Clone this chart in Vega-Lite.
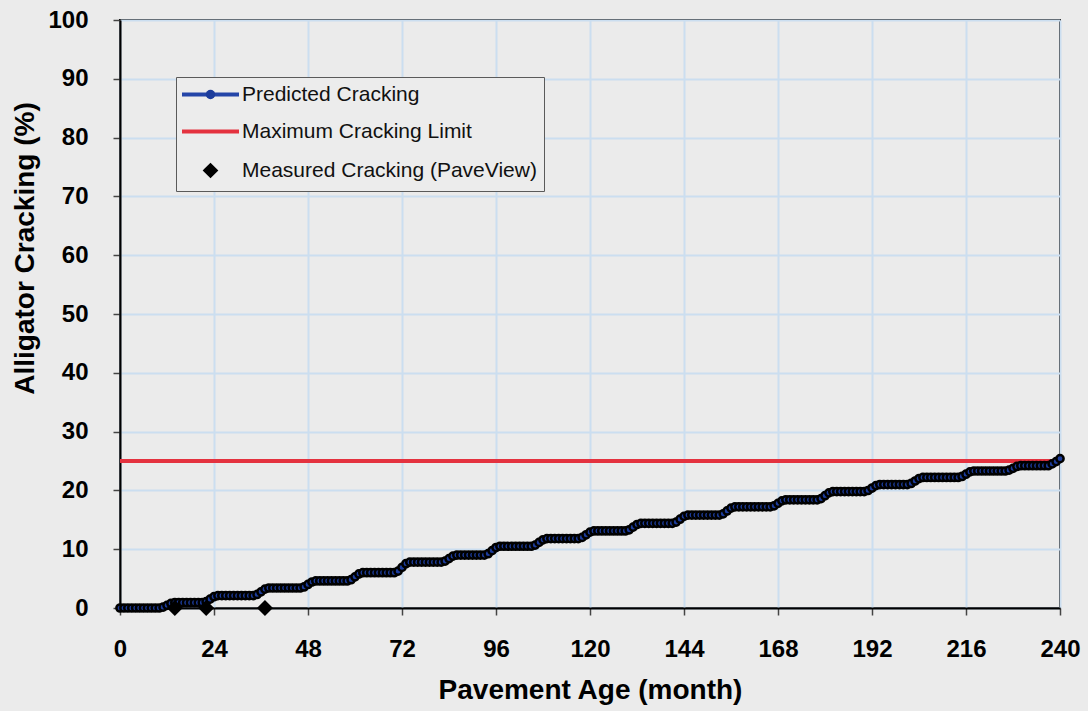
{
  "$schema": "https://vega.github.io/schema/vega-lite/v6.json",
  "autosize": "none",
  "width": 940,
  "height": 588,
  "padding": {"left": 120, "top": 20, "right": 28, "bottom": 103},
  "background": "#ebebeb",
  "config": {
    "font": "Liberation Sans",
    "view": {"stroke": "#000000", "strokeWidth": 2, "fill": "#ebebeb"},
    "axis": {
      "grid": true,
      "gridColor": "#cbdef0",
      "gridWidth": 2,
      "domainColor": "#000000",
      "domainWidth": 2,
      "tickColor": "#444444",
      "tickSize": 7,
      "tickWidth": 1.5,
      "labelFont": "Liberation Sans",
      "labelFontSize": 24,
      "labelFontWeight": "bold",
      "labelColor": "#000000",
      "labelFlush": false,
      "labelOverlap": false,
      "titleFont": "Liberation Sans",
      "titleFontSize": 28,
      "titleFontWeight": "bold",
      "titleColor": "#000000"
    }
  },
  "datasets": {
    "predicted": [
      {"month":0,"cracking":0},{"month":1,"cracking":0},{"month":2,"cracking":0},{"month":3,"cracking":0},{"month":4,"cracking":0},{"month":5,"cracking":0},{"month":6,"cracking":0},{"month":7,"cracking":0},{"month":8,"cracking":0},{"month":9,"cracking":0},{"month":10,"cracking":0},
      {"month":11,"cracking":0.14},{"month":12,"cracking":0.45},{"month":13,"cracking":0.77},
      {"month":14,"cracking":0.9},{"month":15,"cracking":0.9},{"month":16,"cracking":0.9},{"month":17,"cracking":0.9},{"month":18,"cracking":0.9},{"month":19,"cracking":0.9},{"month":20,"cracking":0.9},{"month":21,"cracking":0.9},
      {"month":22,"cracking":1.08},{"month":23,"cracking":1.5},{"month":24,"cracking":1.92},
      {"month":25,"cracking":2.1},{"month":26,"cracking":2.1},{"month":27,"cracking":2.1},{"month":28,"cracking":2.1},{"month":29,"cracking":2.1},{"month":30,"cracking":2.1},{"month":31,"cracking":2.1},{"month":32,"cracking":2.1},{"month":33,"cracking":2.1},{"month":34,"cracking":2.1},
      {"month":35,"cracking":2.3},{"month":36,"cracking":2.75},{"month":37,"cracking":3.2},
      {"month":38,"cracking":3.4},{"month":39,"cracking":3.4},{"month":40,"cracking":3.4},{"month":41,"cracking":3.4},{"month":42,"cracking":3.4},{"month":43,"cracking":3.4},{"month":44,"cracking":3.4},{"month":45,"cracking":3.4},{"month":46,"cracking":3.4},
      {"month":47,"cracking":3.58},{"month":48,"cracking":4.0},{"month":49,"cracking":4.42},
      {"month":50,"cracking":4.6},{"month":51,"cracking":4.6},{"month":52,"cracking":4.6},{"month":53,"cracking":4.6},{"month":54,"cracking":4.6},{"month":55,"cracking":4.6},{"month":56,"cracking":4.6},{"month":57,"cracking":4.6},{"month":58,"cracking":4.6},
      {"month":59,"cracking":4.81},{"month":60,"cracking":5.3},{"month":61,"cracking":5.79},
      {"month":62,"cracking":6.0},{"month":63,"cracking":6.0},{"month":64,"cracking":6.0},{"month":65,"cracking":6.0},{"month":66,"cracking":6.0},{"month":67,"cracking":6.0},{"month":68,"cracking":6.0},{"month":69,"cracking":6.0},{"month":70,"cracking":6.0},
      {"month":71,"cracking":6.27},{"month":72,"cracking":6.9},{"month":73,"cracking":7.53},
      {"month":74,"cracking":7.8},{"month":75,"cracking":7.8},{"month":76,"cracking":7.8},{"month":77,"cracking":7.8},{"month":78,"cracking":7.8},{"month":79,"cracking":7.8},{"month":80,"cracking":7.8},{"month":81,"cracking":7.8},{"month":82,"cracking":7.8},
      {"month":83,"cracking":7.98},{"month":84,"cracking":8.4},{"month":85,"cracking":8.82},
      {"month":86,"cracking":9.0},{"month":87,"cracking":9.0},{"month":88,"cracking":9.0},{"month":89,"cracking":9.0},{"month":90,"cracking":9.0},{"month":91,"cracking":9.0},{"month":92,"cracking":9.0},{"month":93,"cracking":9.0},
      {"month":94,"cracking":9.23},{"month":95,"cracking":9.75},{"month":96,"cracking":10.28},
      {"month":97,"cracking":10.5},{"month":98,"cracking":10.5},{"month":99,"cracking":10.5},{"month":100,"cracking":10.5},{"month":101,"cracking":10.5},{"month":102,"cracking":10.5},{"month":103,"cracking":10.5},{"month":104,"cracking":10.5},{"month":105,"cracking":10.5},
      {"month":106,"cracking":10.7},{"month":107,"cracking":11.15},{"month":108,"cracking":11.6},
      {"month":109,"cracking":11.8},{"month":110,"cracking":11.8},{"month":111,"cracking":11.8},{"month":112,"cracking":11.8},{"month":113,"cracking":11.8},{"month":114,"cracking":11.8},{"month":115,"cracking":11.8},{"month":116,"cracking":11.8},{"month":117,"cracking":11.8},
      {"month":118,"cracking":12.0},{"month":119,"cracking":12.45},{"month":120,"cracking":12.9},
      {"month":121,"cracking":13.1},{"month":122,"cracking":13.1},{"month":123,"cracking":13.1},{"month":124,"cracking":13.1},{"month":125,"cracking":13.1},{"month":126,"cracking":13.1},{"month":127,"cracking":13.1},{"month":128,"cracking":13.1},{"month":129,"cracking":13.1},
      {"month":130,"cracking":13.3},{"month":131,"cracking":13.75},{"month":132,"cracking":14.2},
      {"month":133,"cracking":14.4},{"month":134,"cracking":14.4},{"month":135,"cracking":14.4},{"month":136,"cracking":14.4},{"month":137,"cracking":14.4},{"month":138,"cracking":14.4},{"month":139,"cracking":14.4},{"month":140,"cracking":14.4},{"month":141,"cracking":14.4},
      {"month":142,"cracking":14.61},{"month":143,"cracking":15.1},{"month":144,"cracking":15.59},
      {"month":145,"cracking":15.8},{"month":146,"cracking":15.8},{"month":147,"cracking":15.8},{"month":148,"cracking":15.8},{"month":149,"cracking":15.8},{"month":150,"cracking":15.8},{"month":151,"cracking":15.8},{"month":152,"cracking":15.8},{"month":153,"cracking":15.8},
      {"month":154,"cracking":16.01},{"month":155,"cracking":16.5},{"month":156,"cracking":16.99},
      {"month":157,"cracking":17.2},{"month":158,"cracking":17.2},{"month":159,"cracking":17.2},{"month":160,"cracking":17.2},{"month":161,"cracking":17.2},{"month":162,"cracking":17.2},{"month":163,"cracking":17.2},{"month":164,"cracking":17.2},{"month":165,"cracking":17.2},{"month":166,"cracking":17.2},
      {"month":167,"cracking":17.38},{"month":168,"cracking":17.8},{"month":169,"cracking":18.22},
      {"month":170,"cracking":18.4},{"month":171,"cracking":18.4},{"month":172,"cracking":18.4},{"month":173,"cracking":18.4},{"month":174,"cracking":18.4},{"month":175,"cracking":18.4},{"month":176,"cracking":18.4},{"month":177,"cracking":18.4},{"month":178,"cracking":18.4},
      {"month":179,"cracking":18.61},{"month":180,"cracking":19.1},{"month":181,"cracking":19.59},
      {"month":182,"cracking":19.8},{"month":183,"cracking":19.8},{"month":184,"cracking":19.8},{"month":185,"cracking":19.8},{"month":186,"cracking":19.8},{"month":187,"cracking":19.8},{"month":188,"cracking":19.8},{"month":189,"cracking":19.8},{"month":190,"cracking":19.8},
      {"month":191,"cracking":19.98},{"month":192,"cracking":20.4},{"month":193,"cracking":20.82},
      {"month":194,"cracking":21.0},{"month":195,"cracking":21.0},{"month":196,"cracking":21.0},{"month":197,"cracking":21.0},{"month":198,"cracking":21.0},{"month":199,"cracking":21.0},{"month":200,"cracking":21.0},{"month":201,"cracking":21.0},
      {"month":202,"cracking":21.18},{"month":203,"cracking":21.6},{"month":204,"cracking":22.02},
      {"month":205,"cracking":22.2},{"month":206,"cracking":22.2},{"month":207,"cracking":22.2},{"month":208,"cracking":22.2},{"month":209,"cracking":22.2},{"month":210,"cracking":22.2},{"month":211,"cracking":22.2},{"month":212,"cracking":22.2},{"month":213,"cracking":22.2},{"month":214,"cracking":22.2},
      {"month":215,"cracking":22.37},{"month":216,"cracking":22.75},{"month":217,"cracking":23.14},
      {"month":218,"cracking":23.3},{"month":219,"cracking":23.3},{"month":220,"cracking":23.3},{"month":221,"cracking":23.3},{"month":222,"cracking":23.3},{"month":223,"cracking":23.3},{"month":224,"cracking":23.3},{"month":225,"cracking":23.3},{"month":226,"cracking":23.3},
      {"month":227,"cracking":23.44},{"month":228,"cracking":23.75},{"month":229,"cracking":24.07},
      {"month":230,"cracking":24.2},{"month":231,"cracking":24.2},{"month":232,"cracking":24.2},{"month":233,"cracking":24.2},{"month":234,"cracking":24.2},{"month":235,"cracking":24.2},{"month":236,"cracking":24.2},{"month":237,"cracking":24.2},
      {"month":238,"cracking":24.5},{"month":239,"cracking":24.9},{"month":240,"cracking":25.4}
    ],
    "limit": [
      {"month": 0, "cracking": 25},
      {"month": 240, "cracking": 25}
    ],
    "measured": [
      {"month": 14, "cracking": 0},
      {"month": 22, "cracking": 0},
      {"month": 37, "cracking": 0}
    ]
  },
  "encoding": {
    "x": {
      "field": "month",
      "type": "quantitative",
      "scale": {"domain": [0, 240], "nice": false},
      "axis": {
        "title": "Pavement Age (month)",
        "values": [0, 24, 48, 72, 96, 120, 144, 168, 192, 216, 240],
        "labelPadding": 22,
        "titleY": 90,
        "titleBaseline": "alphabetic"
      }
    },
    "y": {
      "field": "cracking",
      "type": "quantitative",
      "scale": {"domain": [0, 100], "nice": false},
      "axis": {
        "title": "Alligator Cracking (%)",
        "values": [0, 10, 20, 30, 40, 50, 60, 70, 80, 90, 100],
        "labelPadding": 25,
        "titleAngle": 270,
        "titleAlign": "center",
        "titleBaseline": "alphabetic",
        "titleX": -87,
        "titleY": 228
      }
    }
  },
  "layer": [
    {
      "data": {"name": "limit"},
      "mark": {"type": "line", "strokeWidth": 4},
      "encoding": {
        "color": {
          "datum": "Maximum Cracking Limit",
          "type": "nominal",
          "scale": {
            "domain": ["Predicted Cracking", "Maximum Cracking Limit", "Measured Cracking (PaveView)"],
            "range": ["#2445a8", "#e4323f", "#000000"]
          },
          "legend": {
            "title": null,
            "orient": "none",
            "legendX": 56,
            "legendY": 57,
            "zindex": 1,
            "symbolSize": 100,
            "symbolStrokeWidth": 4,
            "symbolOffset": 17,
            "labelFont": "Liberation Sans",
            "labelFontSize": 21,
            "labelColor": "#111111",
            "labelOffset": 21,
            "labelLimit": 500,
            "rowPadding": 15,
            "padding": 7,
            "fillColor": "#ececec",
            "strokeColor": "#5a5a5a",
            "cornerRadius": 0,
            "encode": {
              "symbols": {
                "update": {
                  "shape": {"signal": "datum.value === 'Measured Cracking (PaveView)' ? 'diamond' : 'M-5.7,0L5.7,0'"},
                  "fill": {"signal": "datum.value === 'Measured Cracking (PaveView)' ? '#000000' : 'transparent'"},
                  "stroke": {"signal": "datum.value === 'Measured Cracking (PaveView)' ? 'transparent' : scale('color', datum.value)"}
                }
              }
            }
          }
        }
      }
    },
    {
      "data": {"name": "predicted"},
      "mark": {"type": "line", "strokeWidth": 3},
      "encoding": {
        "color": {"datum": "Predicted Cracking", "type": "nominal"}
      }
    },
    {
      "data": {"name": "predicted"},
      "mark": {"type": "point", "filled": true, "fill": "#1c3c9c", "stroke": "#000000", "strokeWidth": 2.5, "size": 52, "opacity": 1},
      "encoding": {
        "shape": {
          "datum": "p",
          "type": "nominal",
          "scale": {"domain": ["p"], "range": ["circle"]},
          "legend": {
            "title": null,
            "orient": "none",
            "legendX": 56,
            "legendY": 57,
            "zindex": 2,
            "symbolSize": 90,
            "symbolStrokeWidth": 2,
            "symbolOffset": 17,
            "symbolFillColor": "#1c3c9c",
            "symbolStrokeColor": "#000000",
            "labelFont": "Liberation Sans",
            "labelFontSize": 21,
            "labelOffset": 21,
            "labelLimit": 500,
            "labelOpacity": 0,
            "labelExpr": "'Predicted Cracking'",
            "rowPadding": 15,
            "padding": 7,
            "encode": {
              "symbols": {
                "update": {
                  "fill": {"value": "#1c3c9c"},
                  "stroke": {"value": "#000000"},
                  "strokeWidth": {"value": 2},
                  "size": {"value": 90},
                  "opacity": {"value": 1}
                }
              }
            }
          }
        }
      }
    },
    {
      "data": {"name": "measured"},
      "mark": {"type": "point", "shape": "diamond", "filled": true, "color": "#000000", "size": 256, "opacity": 1}
    }
  ]
}
